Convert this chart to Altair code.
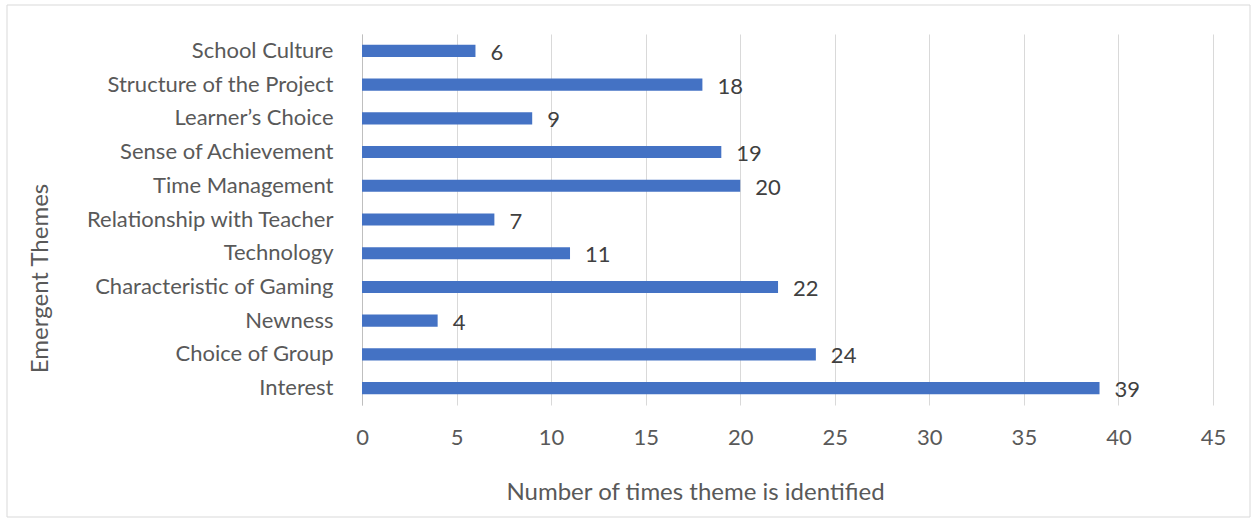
import altair as alt
import pandas as pd

themes = [
    "School Culture ",
    "Structure of the Project ",
    "Learner’s Choice",
    "Sense of Achievement",
    "Time Management",
    "Relationship with Teacher",
    "Technology",
    "Characteristic of Gaming",
    "Newness",
    "Choice of Group ",
    "Interest",
]
counts = [6, 18, 9, 19, 20, 7, 11, 22, 4, 24, 39]
x_ticks = [0, 5, 10, 15, 20, 25, 30, 35, 40, 45]

df = pd.DataFrame({"theme": themes, "count": counts})

FONT = "Lato"
TXT = "#595959"

y_enc = alt.Y(
    "theme:N",
    sort=themes,
    scale=alt.Scale(paddingInner=0.64, paddingOuter=0.32),
    axis=alt.Axis(
        title="Emergent Themes",
        titleFont=FONT,
        titleFontSize=24,
        titleFontWeight="normal",
        titleColor=TXT,
        titleAngle=-90,
        titleX=-322,
        titleY=244,
        titleAlign="center",
        titleBaseline="middle",
        labelFont=FONT,
        labelFontSize=22,
        labelColor=TXT,
        labelPadding=29,
        labelLimit=400,
        ticks=False,
        domain=True,
        domainColor="#bfbfbf",
        domainWidth=1,
        grid=False,
    ),
)

x_enc = alt.X(
    "count:Q",
    scale=alt.Scale(domain=[0, 45], nice=False),
    axis=alt.Axis(
        values=x_ticks,
        title="Number of times theme is identified",
        titleFont=FONT,
        titleFontSize=24,
        titleFontWeight="normal",
        titleColor=TXT,
        titleX=333,
        titleY=87,
        titleAlign="center",
        titleBaseline="middle",
        labelFont=FONT,
        labelFontSize=22,
        labelColor=TXT,
        labelPadding=32,
        labelBaseline="middle",
        labelFlush=False,
        ticks=False,
        domain=False,
        grid=True,
        gridColor="#d9d9d9",
        gridWidth=1,
    ),
)

base = alt.Chart(df)

bars = base.mark_bar(color="#4472C4").encode(x=x_enc, y=y_enc)

labels = base.mark_text(
    align="left", baseline="middle", dx=15, dy=2, font=FONT, fontSize=22, color="#404040"
).encode(x="count:Q", y=alt.Y("theme:N", sort=themes), text="count:Q")

border = alt.Chart(pd.DataFrame({"a": [0]})).mark_rect(
    fill=None, stroke="#d9d9d9", strokeWidth=1
).encode(
    x=alt.value(-355), x2=alt.value(888), y=alt.value(-29), y2=alt.value(483)
)

chart = (
    alt.layer(border, bars, labels)
    .properties(
        width=851,
        height=371,
        autosize=alt.AutoSizeParams(type="none"),
        padding={"left": 362, "top": 34, "right": 40, "bottom": 115},
        background="white",
    )
    .configure_view(stroke=None)
)

chart.save("out.html", embed_options={"renderer": "svg", "actions": False})
